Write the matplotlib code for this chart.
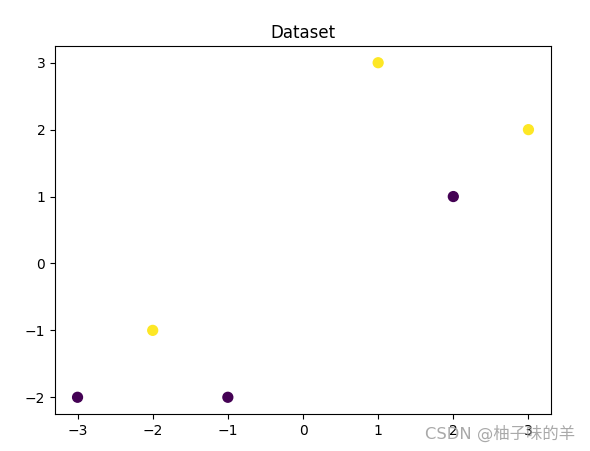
import matplotlib
matplotlib.use("Agg")
from matplotlib import pyplot as plt

plt.rcParams['font.family'] = ['DejaVu Sans', 'Noto Sans CJK SC']

x = [-3, -2, -1, 1, 2, 3]
y = [-2, -1, -2, 3, 1, 2]
labels = [0, 1, 0, 1, 0, 1]

fig = plt.figure(figsize=(5.9, 4.51), dpi=100)
ax = fig.add_axes([55 / 590, 37 / 451, 496 / 590, 368 / 451])
ax.scatter(x, y, c=labels, cmap='viridis', s=50)
ax.set_title('Dataset')

# watermark (overlaps the tick labels, as in the original)
fig.text(0.975, 0.02, 'CSDN @柚子味的羊', ha='right', va='bottom',
         fontsize=11.8, color='#a0a0a0', alpha=0.9,
         family=['DejaVu Sans', 'Noto Sans CJK SC'])

fig.savefig('out.png', dpi=100)
